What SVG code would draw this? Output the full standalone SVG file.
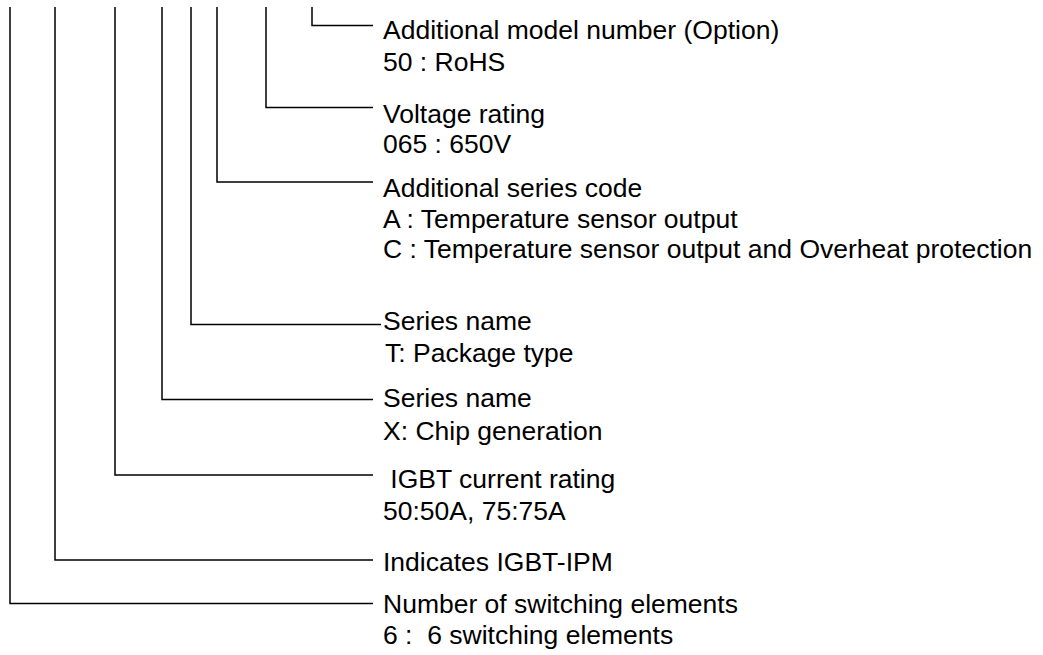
<svg xmlns="http://www.w3.org/2000/svg" width="1043" height="655" viewBox="0 0 1043 655">
<style>
.t{font-family:"Liberation Sans",Arial,sans-serif;font-size:26.5px;fill:#000;white-space:pre}
.c{fill:none;stroke:#000;stroke-width:1.5}
</style>
<rect width="1043" height="655" fill="#fff"/>
<g id="connectors">
<polyline class="c" points="312,7 312,25.5 373,25.5"/>
<polyline class="c" points="266,7 266,107.5 373,107.5"/>
<polyline class="c" points="217,7 217,182 373,182"/>
<polyline class="c" points="191,7 191,324.5 381,324.5"/>
<polyline class="c" points="162,7 162,399.5 373,399.5"/>
<polyline class="c" points="115,7 115,475 373,475"/>
<polyline class="c" points="55,7 55,560 373,560"/>
<polyline class="c" points="10,7 10,603.5 373,603.5"/>
</g>
<g id="option"><text class="t" x="383" y="39">Additional model number (Option)</text><text class="t" x="383" y="70.5">50 : RoHS</text></g>
<g id="voltage"><text class="t" x="383" y="123">Voltage rating</text><text class="t" x="383" y="153">065 : 650V</text></g>
<g id="addseries"><text class="t" x="383" y="197">Additional series code</text><text class="t" x="383" y="227.5">A : Temperature sensor output</text><text class="t" x="383" y="258">C : Temperature sensor output and Overheat protection</text></g>
<g id="seriesT"><text class="t" x="383" y="330">Series name</text><text class="t" x="385" y="361.5">T: Package type</text></g>
<g id="seriesX"><text class="t" x="383" y="407">Series name</text><text class="t" x="383" y="439.5">X: Chip generation</text></g>
<g id="current"><text class="t" x="383" y="488"> IGBT current rating</text><text class="t" x="383" y="520">50:50A, 75:75A</text></g>
<g id="ipm"><text class="t" x="383" y="571">Indicates IGBT-IPM</text></g>
<g id="switch"><text class="t" x="383" y="613">Number of switching elements</text><text class="t" x="383" y="644">6 :  6 switching elements</text></g>
</svg>
